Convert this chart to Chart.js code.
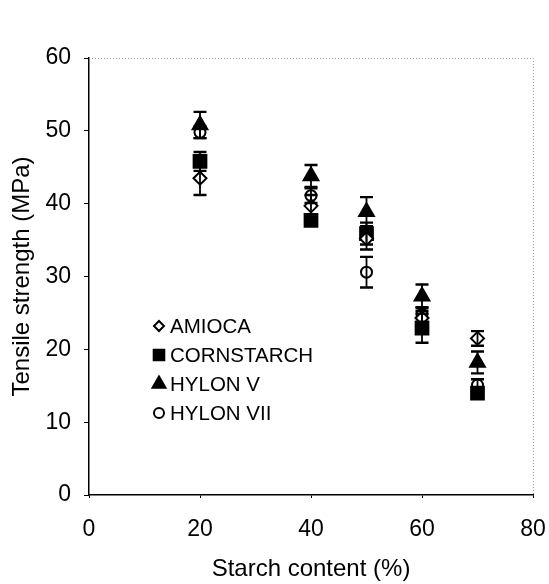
<!DOCTYPE html>
<html>
<head>
<meta charset="utf-8">
<script src="https://cdn.jsdelivr.net/npm/chart.js@4/dist/chart.umd.min.js"></script>
<style>
  html, body { margin: 0; padding: 0; background: #fff; }
</style>
</head>
<body>
<canvas id="chart" width="549" height="584"></canvas>
<script>
const FONT = "'Liberation Sans', Arial, sans-serif"

// Starch content (%) on the x axis
const starchContent = [20, 40, 50, 60, 70]

// Tensile strength (MPa) and error bar half-widths, one pair per starch
const amioca = [43.5, 39.7, 35.2, 24.3, 21.5]
const amiocaErr = [2.3, 1.5, 1.5, 1.0, 1.0]

const cornstarch = [45.8, 37.7, 35.9, 22.9, 14.0]
const cornstarchErr = [1.3, 0.5, 1.5, 2.0, 0.5]

const hylonV = [50.8, 43.8, 38.9, 27.3, 18.2]
const hylonVErr = [1.8, 1.5, 2.0, 1.6, 1.5]

const hylonVII = [49.8, 41.1, 30.6, 24.8, 15.1]
const hylonVIIErr = [0.8, 1.0, 2.1, 1.0, 0.8]

const xTicks = [0, 20, 40, 60, 80]
const yTicks = [0, 10, 20, 30, 40, 50, 60]

const series = [
  {label: 'AMIOCA', values: amioca, err: amiocaErr, style: 'rectRot', radius: 6.5, fill: '#fff', lr: 5},
  {label: 'CORNSTARCH', values: cornstarch, err: cornstarchErr, style: 'rect', radius: 9, fill: '#000', lr: 7.5},
  {label: 'HYLON V', values: hylonV, err: hylonVErr, style: 'triangle', radius: 8.5, fill: '#000', lr: 7.5},
  {label: 'HYLON VII', values: hylonVII, err: hylonVIIErr, style: 'circle', radius: 5.5, fill: '#fff', lr: 5},
]

const toPoints = (vals) => vals.map((v, i) => ({x: starchContent[i], y: v}))

// vertical error bars with caps, drawn on top of the markers
const errorBars = {
  id: 'errorBars',
  afterDatasetsDraw(chart) {
    const {ctx} = chart
    const y = chart.scales.y
    ctx.save()
    ctx.strokeStyle = '#000'
    series.forEach((s, i) => {
      const meta = chart.getDatasetMeta(i)
      meta.data.forEach((pt, j) => {
        const top = y.getPixelForValue(s.values[j] + s.err[j])
        const bot = y.getPixelForValue(s.values[j] - s.err[j])
        ctx.lineWidth = 1.8
        ctx.beginPath()
        ctx.moveTo(pt.x, top)
        ctx.lineTo(pt.x, bot)
        ctx.stroke()
        ctx.lineWidth = 2.4
        ctx.beginPath()
        ctx.moveTo(pt.x - 6.5, top)
        ctx.lineTo(pt.x + 6.5, top)
        ctx.moveTo(pt.x - 6.5, bot)
        ctx.lineTo(pt.x + 6.5, bot)
        ctx.stroke()
      })
    })
    ctx.restore()
  },
}

// dotted top and right frame lines
const frame = {
  id: 'frame',
  beforeDatasetsDraw(chart) {
    const {ctx, chartArea: a} = chart
    ctx.save()
    ctx.strokeStyle = '#999'
    ctx.lineWidth = 1
    ctx.setLineDash([1, 2])
    ctx.beginPath()
    ctx.moveTo(a.left, a.top + 0.5)
    ctx.lineTo(a.right + 0.5, a.top + 0.5)
    ctx.lineTo(a.right + 0.5, a.bottom)
    ctx.stroke()
    ctx.restore()
  },
}

// legend inside the plot, lower left
const insideLegend = {
  id: 'insideLegend',
  afterDraw(chart) {
    const {ctx} = chart
    ctx.save()
    ctx.font = '20.5px ' + FONT
    ctx.textBaseline = 'middle'
    series.forEach((s, i) => {
      const cy = 326 + i * 29
      ctx.fillStyle = s.fill
      ctx.strokeStyle = '#000'
      ctx.lineWidth = 2
      Chart.helpers.drawPoint(ctx, {pointStyle: s.style, radius: s.lr, rotation: 0, borderWidth: 2}, 159, cy)
      ctx.fillStyle = '#000'
      ctx.fillText(s.label, 170, cy + 1)
    })
    ctx.restore()
  },
}

new Chart(document.getElementById('chart'), {
  type: 'scatter',
  data: {
    datasets: series.map((s) => ({
      label: s.label,
      data: toPoints(s.values),
      pointStyle: s.style,
      pointRadius: s.radius,
      pointHoverRadius: s.radius,
      backgroundColor: s.fill,
      borderColor: '#000',
      pointBorderWidth: 2,
    })),
  },
  options: {
    responsive: false,
    animation: false,
    layout: {padding: {top: 58, right: 16, left: 0, bottom: 0}},
    plugins: {legend: {display: false}, tooltip: {enabled: false}},
    scales: {
      x: {
        type: 'linear',
        min: 0,
        max: 80,
        afterBuildTicks: (s) => { s.ticks = xTicks.map((v) => ({value: v})) },
        afterFit: (s) => { s.height = 89; s.paddingLeft = 0; s.paddingRight = 0 },
        border: {color: '#000', width: 1.5},
        grid: {drawOnChartArea: false, drawTicks: true, tickLength: 3, color: '#000'},
        ticks: {color: '#000', font: {family: FONT, size: 23}, padding: 18, maxRotation: 0},
        title: {display: true, text: 'Starch content (%)', color: '#000', font: {family: FONT, size: 24}, padding: {top: 0, bottom: 0}},
      },
      y: {
        min: 0,
        max: 60,
        afterBuildTicks: (s) => { s.ticks = yTicks.map((v) => ({value: v})) },
        afterFit: (s) => { s.width = 89 },
        border: {color: '#000', width: 1.5},
        grid: {drawOnChartArea: false, drawTicks: true, tickLength: 5, color: '#000'},
        ticks: {color: '#000', font: {family: FONT, size: 23}, padding: 13},
        title: {display: true, text: 'Tensile strength (MPa)', color: '#000', font: {family: FONT, size: 24}, padding: {top: 8, bottom: 0}},
      },
    },
  },
  plugins: [frame, errorBars, insideLegend],
})
</script>
</body>
</html>
